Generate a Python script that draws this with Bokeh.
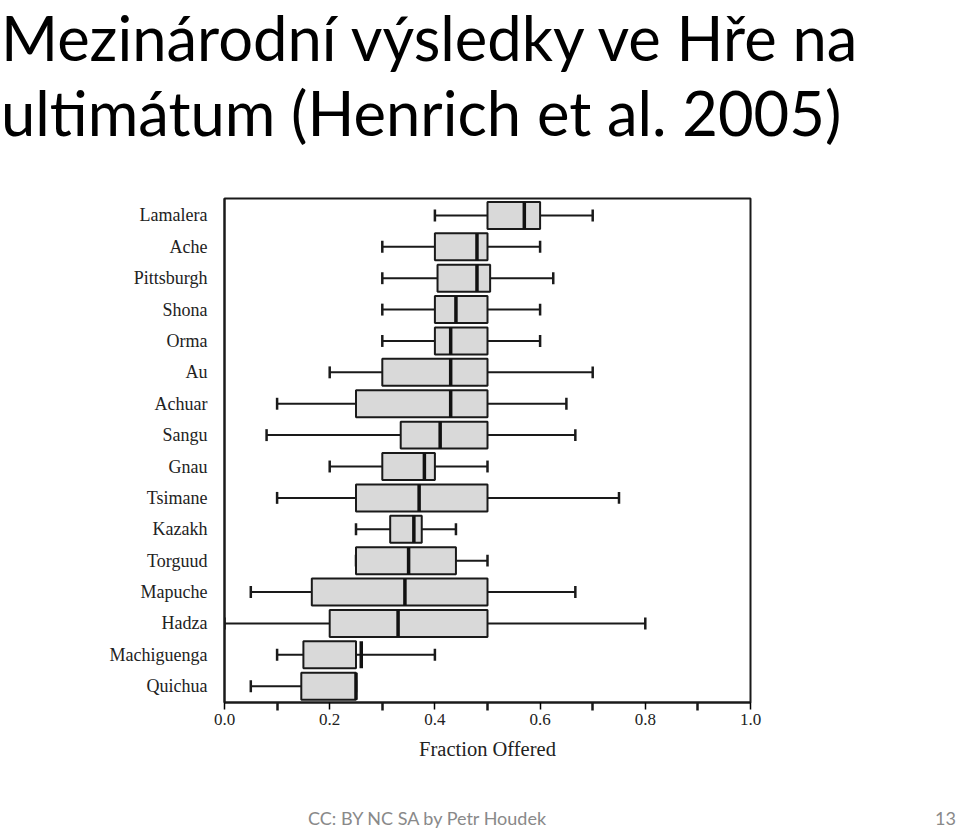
from bokeh.plotting import figure
from bokeh.layouts import column
from bokeh.models import Range1d, FixedTicker, ColumnDataSource, Div
from bokeh.embed import file_html
from bokeh.resources import INLINE

# ---- data ----
groups = ["Lamalera", "Ache", "Pittsburgh", "Shona", "Orma", "Au", "Achuar", "Sangu",
          "Gnau", "Tsimane", "Kazakh", "Torguud", "Mapuche", "Hadza", "Machiguenga", "Quichua"]
low    = [0.40, 0.30, 0.30, 0.30, 0.30, 0.20, 0.10, 0.08, 0.20, 0.10, 0.25, 0.25, 0.05, 0.00, 0.10, 0.05]
q1     = [0.50, 0.40, 0.405, 0.40, 0.40, 0.30, 0.25, 0.335, 0.30, 0.25, 0.315, 0.25, 0.166, 0.20, 0.15, 0.146]
median = [0.57, 0.48, 0.48, 0.44, 0.43, 0.43, 0.43, 0.41, 0.38, 0.37, 0.36, 0.35, 0.343, 0.33, 0.26, 0.25]
q3     = [0.60, 0.50, 0.505, 0.50, 0.50, 0.50, 0.50, 0.50, 0.40, 0.50, 0.375, 0.44, 0.50, 0.50, 0.25, 0.25]
high   = [0.70, 0.60, 0.625, 0.60, 0.60, 0.70, 0.65, 0.667, 0.50, 0.75, 0.44, 0.50, 0.667, 0.80, 0.40, 0.25]

x_major = [0.0, 0.2, 0.4, 0.6, 0.8, 1.0]
x_minor = [0.1, 0.3, 0.5, 0.7, 0.9]
title_lines = ["Mezinárodní výsledky ve Hře na", "ultimátum (Henrich et al. 2005)"]
footer_text = "CC: BY NC SA by Petr Houdek"
page_no = "13"
x_label = "Fraction Offered"

W = 960
TITLE_H = 180
MAIN_H = 600
FOOT_H = 51

# ---- title ----
title_html = (
    '<div style="font-family:Lato,sans-serif;font-size:61.5px;color:#000;'
    'white-space:nowrap;margin:0;padding:0 0 0 1px;">'
    f'<div style="line-height:74px;margin:0;">{title_lines[0]}</div>'
    f'<div style="line-height:76px;margin:0;">{title_lines[1]}</div>'
    '</div>'
)
title_div = Div(text=title_html, width=W, height=TITLE_H, margin=0)

# ---- main chart ----
pos = list(range(len(groups)))
BOX_H = 0.86
CAP = 0.19

src = ColumnDataSource(dict(
    y=pos, low=low, q1=q1, med=median, q3=q3, high=high,
    y0=[p - BOX_H / 2 for p in pos], y1=[p + BOX_H / 2 for p in pos],
    c0=[p - CAP for p in pos], c1=[p + CAP for p in pos],
))

p = figure(width=W, height=MAIN_H, output_backend="svg", toolbar_location=None,
           x_range=Range1d(0, 1.0), y_range=Range1d(15.52, -0.54),
           min_border_left=224, min_border_right=210, min_border_top=18, min_border_bottom=78,
           margin=0)
p.xgrid.visible = False
p.ygrid.visible = False
p.outline_line_color = "#1a1a1a"
p.outline_line_width = 2
p.background_fill_color = "white"
p.border_fill_color = "white"

# whiskers
p.segment(x0="low", y0="y", x1="q1", y1="y", source=src, line_color="#1a1a1a", line_width=2)
p.segment(x0="q3", y0="y", x1="high", y1="y", source=src, line_color="#1a1a1a", line_width=2)
# caps
p.segment(x0="low", y0="c0", x1="low", y1="c1", source=src, line_color="#1a1a1a", line_width=2.5)
p.segment(x0="high", y0="c0", x1="high", y1="c1", source=src, line_color="#1a1a1a", line_width=2.5)
# boxes
p.hbar(y="y", left="q1", right="q3", height=BOX_H, source=src,
       fill_color="#d9d9d9", line_color="#1a1a1a", line_width=2)
# medians
p.segment(x0="med", y0="y0", x1="med", y1="y1", source=src, line_color="#111111", line_width=3.5)

# x axis
xa = p.xaxis[0]
xa.ticker = FixedTicker(ticks=x_major, minor_ticks=x_minor)
xa.major_label_overrides = {v: f"{v:.1f}" for v in x_major}
xa.axis_line_width = 2
xa.axis_line_color = "#1a1a1a"
xa.major_tick_in = 0
xa.major_tick_out = 7
xa.major_tick_line_width = 1.5
xa.minor_tick_in = 0
xa.minor_tick_out = 8
xa.minor_tick_line_width = 2.5
xa.minor_tick_line_color = "#1a1a1a"
xa.major_label_text_font = "Liberation Serif"
xa.major_label_text_font_size = "17px"
xa.major_label_text_color = "#222222"
xa.major_label_standoff = 3
xa.axis_label = x_label
xa.axis_label_text_font = "Liberation Serif"
xa.axis_label_text_font_size = "20.5px"
xa.axis_label_text_font_style = "normal"
xa.axis_label_text_color = "#222222"
xa.axis_label_standoff = 10

# y axis
ya = p.yaxis[0]
ya.ticker = FixedTicker(ticks=pos, minor_ticks=[])
ya.major_label_overrides = {i: g for i, g in zip(pos, groups)}
ya.axis_line_width = 2
ya.axis_line_color = "#1a1a1a"
ya.major_tick_in = 0
ya.major_tick_out = 0
ya.minor_tick_in = 0
ya.minor_tick_out = 0
ya.major_label_text_font = "Liberation Serif"
ya.major_label_text_font_size = "18px"
ya.major_label_text_color = "#222222"
ya.major_label_standoff = 17

# ---- footer ----
footer_html = (
    '<div style="display:flex;width:960px;font-family:Lato,sans-serif;font-size:18px;'
    'line-height:20px;color:#898989;padding-top:28px;white-space:nowrap;">'
    f'<span style="margin-left:308px;">{footer_text}</span>'
    f'<span style="margin-left:auto;margin-right:4px;">{page_no}</span></div>'
)
footer_div = Div(text=footer_html, width=W, height=FOOT_H, margin=0)

layout = column(title_div, p, footer_div, spacing=0)
open("out.html", "w").write(file_html(layout, INLINE))
